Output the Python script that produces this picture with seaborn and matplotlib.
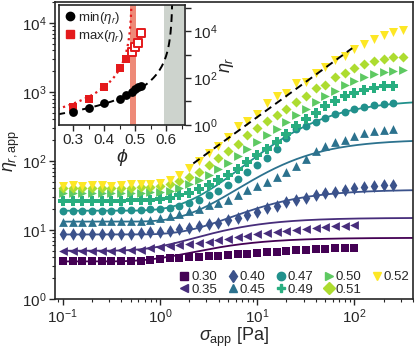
import matplotlib
matplotlib.use("Agg")
import matplotlib.pyplot as plt
from matplotlib.lines import Line2D
import seaborn as sns
import numpy as np

sns.set_style("ticks")
plt.rcParams['font.family'] = ['Liberation Sans', 'DejaVu Sans']
plt.rcParams['mathtext.fontset'] = 'custom'
plt.rcParams['mathtext.rm'] = 'Liberation Sans'
plt.rcParams['mathtext.it'] = 'Liberation Sans:italic'
plt.rcParams['mathtext.bf'] = 'Liberation Sans:bold'

# applied stress [Pa], shared by all series
sigma_app = [0.1, 0.126, 0.158, 0.2, 0.251, 0.316, 0.398, 0.501, 0.631, 0.794,
             1.0, 1.26, 1.58, 2.0, 2.51, 3.16, 3.98, 5.01, 6.31, 7.94,
             10, 12.6, 15.8, 20, 25.1, 31.6, 39.8, 50.1, 63.1, 79.4,
             100, 126, 158, 200, 251, 316]

phi_labels = ['0.30', '0.35', '0.40', '0.45', '0.47', '0.49', '0.50', '0.51', '0.52']
markers = ['s', '<', 'd', '^', 'o', 'P', '>', 'D', 'v']

eta_030 = [3.5, 3.5, 3.5, 3.5, 3.5, 3.5, 3.5, 3.55, 3.6, 3.7,
           3.8, 3.9, 3.95, 4.0, 4.05, 4.15, 4.25, 4.35, 4.45, 4.55,
           4.65, 4.75, 4.85, 4.95, 5.05, 5.15, 5.25, 5.3, 5.4, 5.45, 5.5]
eta_035 = [5.0, 5.0, 5.0, 5.0, 5.0, 5.0, 5.05, 5.1, 5.2, 5.4,
           5.6, 5.8, 6.0, 6.2, 6.5, 6.8, 7.1, 7.4, 7.8, 8.2,
           8.6, 8.9, 9.3, 9.7, 10.0, 10.4, 10.7, 11.0, 11.3, 11.6, 11.9]
eta_040 = [8.6, 8.6, 8.6, 8.6, 8.6, 8.7, 8.7, 8.8, 8.9, 9.2,
           9.5, 9.8, 10.2, 10.7, 11.3, 12.0, 12.8, 13.8, 15.0, 16.5,
           18.5, 20.5, 22.5, 25, 27, 29.5, 32, 34, 36, 38,
           40, 42, 43.5, 44.5, 45.5]
eta_045 = [13.2, 13.2, 13.2, 13.2, 13.3, 13.3, 13.4, 13.5, 13.7, 14.0,
           15, 16, 17.2, 18.6, 20.4, 22.7, 24.5, 27.5, 32, 37.5,
           42.7, 49, 59, 70, 84, 105, 140, 164, 186, 204,
           232, 255, 270, 282, 292]
eta_047 = [19, 19, 19, 19, 19, 19, 19.2, 19.4, 19.6, 19.8,
           20.2, 21, 22.4, 24.5, 27.5, 31.6, 37, 44.7, 55, 69,
           87, 112, 150, 215, 287, 320, 370, 425, 474, 510,
           562, 607, 641, 664, 680]
eta_049 = [26.5, 26.5, 26.5, 26.5, 26.5, 26.5, 26.6, 26.8, 27, 27.5,
           28, 29.5, 31.6, 34.7, 39, 44.7, 52.5, 63, 77.6, 95.5,
           120, 151, 190, 245, 316, 407, 501, 617, 741, 871,
           977, 1070, 1150, 1200, 1230]
eta_050 = [34, 34, 34, 34, 34, 34, 34, 34.2, 34.5, 35,
           35.5, 37, 40.7, 45.7, 52.5, 63, 76, 93, 117, 148,
           186, 234, 295, 363, 457, 575, 708, 871, 1047, 1259,
           1445, 1660, 1820, 1950, 2040, 2090]
eta_051 = [40, 40.5, 40, 40.5, 40.5, 40, 40.5, 41, 41.5, 42,
           42.7, 45.7, 51.3, 59, 69, 87, 110, 138, 178, 234,
           302, 380, 468, 575, 708, 871, 1122, 1259, 1622, 1862,
           2188, 2512, 2818, 3020, 3162, 3162]
eta_052 = [43.6, 44.7, 43.6, 44.7, 44.7, 43.6, 44.7, 45.7, 45.7, 46.8,
           47.9, 52.5, 63, 79, 100, 132, 166, 224, 316, 380,
           479, 692, 871, 955, 1349, 1413, 1862, 2291, 2884, 3311,
           4169, 5012, 5754, 6607, 7413, 7943]
eta_series = [eta_030, eta_035, eta_040, eta_045, eta_047, eta_049, eta_050, eta_051, eta_052]

# fitted curves (low / high plateau and onset stress) for the five lowest fractions
fit_lo = [3.5, 5.0, 8.6, 13.2, 19]
fit_hi = [7.7, 15, 38.5, 205, 770]
fit_sc = [1.8, 1.8, 4.0, 3.6, 3.4]

# power-law guide (dashed)
guide_sigma = [2.2, 95]
guide_eta = [92, 4300]

# inset: plateau viscosities vs volume fraction
phi_vals = [0.30, 0.35, 0.40, 0.45, 0.47, 0.49, 0.50, 0.51, 0.52]
eta_min = [3.4, 5.2, 8.4, 13.2, 18.5, 26.5, 34, 40, 44]
eta_max = [5.7, 12.5, 43, 273, 650, 1240, 2150, 3100, 8200]
n_closed = 5
phi_0, n_0 = 0.62, 2.0
phi_m, n_m = 0.49, 2.2

colors = plt.cm.viridis(np.linspace(0, 1, 9))

fig = plt.figure(figsize=(4.15, 3.52), dpi=100)
ax = fig.add_axes([0.1325, 0.1506, 0.8625, 0.8434])

s_line = np.logspace(-1, np.log10(450), 200)
for lo, hi, sc, c in zip(fit_lo, fit_hi, fit_sc, colors[:5]):
    f = np.exp(-sc / s_line)
    eta = (lo ** -0.5 * (1 - f) + hi ** -0.5 * f) ** -2
    ax.plot(s_line, eta, color=c, lw=1.3, zorder=2)

sizes = {'s': 30, '<': 40, 'd': 42, '^': 40, 'o': 32, 'P': 48, '>': 40, 'D': 26, 'v': 42}
handles = []
for eta, m, c, lab in zip(eta_series, markers, colors, phi_labels):
    x = sigma_app[:len(eta)]
    sns.scatterplot(x=x, y=eta, marker=m, color=c, s=sizes[m], linewidth=0, ax=ax, zorder=3)
    handles.append(Line2D([], [], ls='', marker=m, color=c, markersize=6, label=lab))

ax.plot(guide_sigma, guide_eta, ls='--', color='k', lw=1.4, dashes=(4, 2.5), zorder=4)

ax.set_xscale('log')
ax.set_yscale('log')
ax.set_xlim(0.083, 400)
ax.set_ylim(1, 2e4)
ax.set_xlabel(r'$\sigma_{\mathrm{app}}$ [Pa]', fontsize=13, labelpad=0)
ax.set_ylabel(r'$\eta_{r,\mathrm{app}}$', fontsize=13, labelpad=0)
ax.tick_params(which='major', direction='out', length=4, width=1, labelsize=11, pad=2)
ax.tick_params(which='minor', direction='out', length=2, width=0.8)
for sp in ax.spines.values():
    sp.set_linewidth(1.2)

ax.legend(handles=handles, ncol=5, loc='lower right', frameon=False, fontsize=9.5,
          handletextpad=0.0, columnspacing=0.7, labelspacing=0.0,
          borderaxespad=0.05, handlelength=1.0, borderpad=0.2, bbox_to_anchor=(1.0, 0.0))

# inset
ax_in = fig.add_axes([0.142, 0.645, 0.304, 0.341])
ax_in.set_facecolor('white')
ax_in.axvspan(0.593, 0.655, color='#cdd3cd', lw=0, zorder=0)
ax_in.axvspan(0.484, 0.503, color='#ee8a78', lw=0, zorder=0)

p = np.linspace(0.25, 0.6195, 300)
ax_in.plot(p, (1 - p / phi_0) ** -n_0, ls='--', color='k', lw=1.4, dashes=(4, 2.5), zorder=2)
p2 = np.linspace(0.25, 0.4885, 300)
ax_in.plot(p2, (1 - p2 / phi_m) ** -n_m, ls=':', color='#e41a1c', lw=1.6, zorder=2)

sns.scatterplot(x=phi_vals[:n_closed], y=eta_max[:n_closed], marker='s', color='#e41a1c',
                s=40, linewidth=0, ax=ax_in, zorder=3)
ax_in.scatter(phi_vals[n_closed:], eta_max[n_closed:], marker='s', facecolors='white',
              edgecolors='#e41a1c', s=34, linewidths=1.4, zorder=3)
sns.scatterplot(x=phi_vals, y=eta_min, marker='o', color='k', s=40, linewidth=0, ax=ax_in, zorder=4)

ax_in.set_yscale('log')
ax_in.set_xlim(0.255, 0.66)
ax_in.set_ylim(1, 1.3e5)
ax_in.set_xticks([0.3, 0.4, 0.5, 0.6])
ax_in.set_xticks(np.arange(0.3, 0.66, 0.05), minor=True)
ax_in.set_yticks([1, 1e1, 1e2, 1e3, 1e4, 1e5])
ax_in.set_yticklabels([r'$10^0$', '', r'$10^2$', '', r'$10^4$', ''])
ax_in.yaxis.set_minor_locator(matplotlib.ticker.NullLocator())
ax_in.yaxis.tick_right()
ax_in.yaxis.set_label_position('right')
ax_in.set_xlabel(r'$\phi$', fontsize=14, labelpad=0)
ax_in.set_ylabel(r'$\eta_r$', fontsize=13, labelpad=0)
ax_in.tick_params(which='major', direction='out', length=4, width=1, labelsize=11, pad=2)
ax_in.tick_params(which='minor', direction='out', length=3, width=0.8)
for sp in ax_in.spines.values():
    sp.set_linewidth(1.2)

in_handles = [Line2D([], [], ls='', marker='o', color='k', markersize=6, label=r'min($\eta_r$)'),
              Line2D([], [], ls='', marker='s', color='#e41a1c', markersize=6, label=r'max($\eta_r$)')]
ax_in.legend(handles=in_handles, loc='upper left', frameon=False, fontsize=9.5,
             handletextpad=0.1, labelspacing=0.15, borderaxespad=0.15, handlelength=1.0,
             borderpad=0.2)

fig.savefig('out.png', dpi=100)
